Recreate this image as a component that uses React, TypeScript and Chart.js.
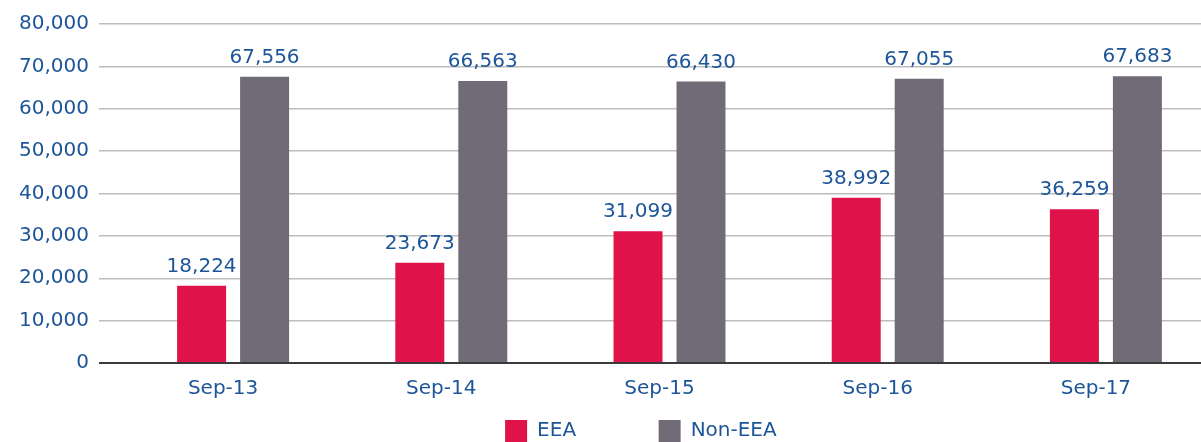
import React, { useEffect, useRef } from 'react';
import { Chart, registerables } from 'chart.js';

Chart.register(...registerables);

const CATEGORIES = ['Sep-13', 'Sep-14', 'Sep-15', 'Sep-16', 'Sep-17'];
const EEA = [18224, 23673, 31099, 38992, 36259];
const NON_EEA = [67556, 66563, 66430, 67055, 67683];
const SERIES_NAMES = ['EEA', 'Non-EEA'];
const Y_MIN = 0;
const Y_MAX = 80000;
const Y_STEP = 10000;

const BLUE = '#1d5598';
const RED = '#e0124a';
const GREY = '#716b77';
const GRID = '#bdbdbd';
const ZERO = '#3a3a3a';
const FONT = '"DejaVu Sans", sans-serif';
const LEGEND_GAPS = ['          ', '         '];

const dataLabels = {
  id: 'dataLabels',
  afterDatasetsDraw(chart: any) {
    const ctx = chart.ctx;
    ctx.save();
    ctx.font = `20px ${FONT}`;
    ctx.fillStyle = BLUE;
    ctx.textAlign = 'center';
    ctx.textBaseline = 'alphabetic';
    chart.data.datasets.forEach((ds: any, i: number) => {
      const meta = chart.getDatasetMeta(i);
      meta.data.forEach((bar: any, j: number) => {
        const v = ds.data[j];
        ctx.fillText(Number(v).toLocaleString('en-US'), bar.x, bar.y - 14);
      });
    });
    ctx.restore();
  },
};

export default function App() {
  const ref = useRef<HTMLCanvasElement | null>(null);

  useEffect(() => {
    if (!ref.current) return;
    const chart = new Chart(ref.current, {
      type: 'bar',
      data: {
        labels: CATEGORIES,
        datasets: [
          {
            label: SERIES_NAMES[0],
            data: EEA,
            backgroundColor: RED,
            categoryPercentage: 0.5773,
            barPercentage: 0.7778,
          },
          {
            label: SERIES_NAMES[1],
            data: NON_EEA,
            backgroundColor: GREY,
            categoryPercentage: 0.5773,
            barPercentage: 0.7778,
          },
        ],
      },
      options: {
        responsive: false,
        animation: false,
        devicePixelRatio: 1,
        layout: { padding: { left: 0, right: 1, top: 24, bottom: 0 } },
        scales: {
          x: {
            grid: { display: false, drawTicks: false },
            border: { display: false },
            ticks: {
              color: BLUE,
              font: { family: FONT, size: 20 },
              padding: 14,
              labelOffset: -10,
              maxRotation: 0,
              autoSkip: false,
            },
            afterFit: (s: any) => {
              s.height = 38;
            },
          },
          y: {
            min: Y_MIN,
            max: Y_MAX,
            ticks: {
              stepSize: Y_STEP,
              color: BLUE,
              font: { family: FONT, size: 20 },
              padding: 10,
            },
            grid: {
              color: (c: any) => (c.tick && c.tick.value === 0 ? ZERO : GRID),
              lineWidth: (c: any) => (c.tick && c.tick.value === 0 ? 2 : 1.5),
              tickLength: 25,
              drawTicks: true,
            },
            border: { display: false },
            afterFit: (s: any) => {
              s.width = 124;
            },
          },
        },
        plugins: {
          legend: {
            position: 'bottom',
            fullSize: false,
            maxHeight: 41,
            labels: {
              boxWidth: 22,
              boxHeight: 22,
              padding: 19,
              color: BLUE,
              font: { family: FONT, size: 20 },
              generateLabels: (ch: any) => {
                const items = (Chart as any).defaults.plugins.legend.labels.generateLabels(ch);
                return items.map((it: any, i: number) => ({ ...it, text: it.text + (LEGEND_GAPS[i] || '') }));
              },
            },
          },
          tooltip: { enabled: false },
        },
      } as any,
      plugins: [dataLabels],
    });
    return () => chart.destroy();
  }, []);

  return (
    <div
      style={{
        position: 'fixed',
        left: 0,
        top: 0,
        width: 1201,
        height: 442,
        overflow: 'hidden',
        background: '#ffffff',
      }}
    >
      <canvas ref={ref} width={1216} height={442} style={{ display: 'block' }} />
    </div>
  );
}
